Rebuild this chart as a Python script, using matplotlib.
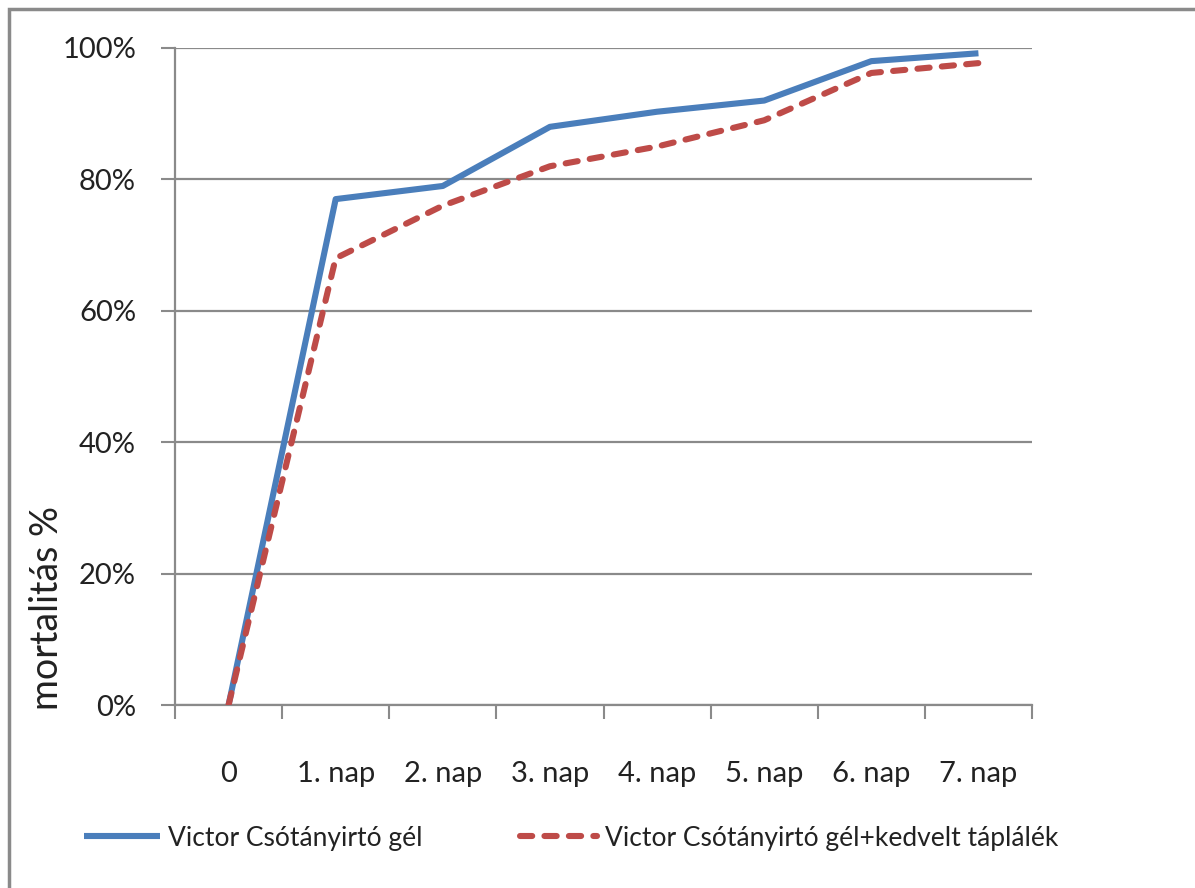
import matplotlib
matplotlib.use("Agg")
import matplotlib.pyplot as plt
from matplotlib.patches import Rectangle
from matplotlib.ticker import PercentFormatter, FixedLocator

categories = ["0", "1. nap", "2. nap", "3. nap", "4. nap", "5. nap", "6. nap", "7. nap"]
gel = [0.0, 0.77, 0.79, 0.88, 0.903, 0.92, 0.98, 0.992]
gel_food = [0.0, 0.68, 0.76, 0.82, 0.85, 0.89, 0.962, 0.977]
series_names = ["Victor Csótányirtó gél", "Victor Csótányirtó gél+kedvelt táplálék"]
y_label = "mortalitás %"

plt.rcParams['font.family'] = ['Lato', 'DejaVu Sans']

W, H = 1195, 888
fig = plt.figure(figsize=(W / 100, H / 100), dpi=100)
fig.patch.set_facecolor("white")

# outer frame (only top/left visible in reference)
fig.patches.append(Rectangle((9 / W, -0.1), 1.2, 1 - 9 / H + 0.1, transform=fig.transFigure,
                             fill=False, edgecolor="#8a8a8a", linewidth=2.5))

ax = fig.add_axes([175 / W, 1 - 705 / H, (1032 - 175) / W, (705 - 48) / H])
x = list(range(len(categories)))
ax.plot(x, gel, color="#4A7EBB", linewidth=4.4, solid_capstyle="butt",
        solid_joinstyle="round", zorder=3, label=series_names[0])
ax.plot(x, gel_food, color="#BE4B48", linewidth=4.4, dashes=(2.0, 2.0),
        dash_capstyle="round", zorder=3, label=series_names[1])

ax.set_xlim(-0.5, len(categories) - 0.5)
ax.set_ylim(0, 1)
ax.yaxis.set_major_locator(FixedLocator([0, 0.2, 0.4, 0.6, 0.8, 1.0]))
ax.yaxis.set_major_formatter(PercentFormatter(1.0, decimals=0))
ax.set_xticks(x)
ax.set_xticklabels(categories)
ax.set_xticks([i - 0.5 for i in range(len(categories) + 1)], minor=True)
ax.tick_params(axis="x", which="major", length=0, pad=40, labelsize=21, labelcolor="#222222")
ax.tick_params(axis="x", which="minor", length=10, width=1.5, color="#8a8a8a", direction="out")
ax.tick_params(axis="y", length=10, width=1.5, color="#8a8a8a", pad=18, labelsize=21,
               labelcolor="#222222")
ax.grid(axis="y", color="#8a8a8a", linewidth=1.6)
ax.set_axisbelow(True)
for s in ["top", "right"]:
    ax.spines[s].set_visible(False)
for s in ["left", "bottom"]:
    ax.spines[s].set_color("#8a8a8a")
    ax.spines[s].set_linewidth(1.6)

fig.text(47 / W, 1 - 608 / H, y_label, rotation=90, ha="center", va="center",
         fontsize=27, color="#222222")

leg = fig.legend(loc="center left", bbox_to_anchor=(60 / W, 1 - 838 / H), ncol=2,
                 frameon=False, fontsize=19, handlelength=2.9, handletextpad=0.3,
                 columnspacing=3.7, labelcolor="#222222")

fig.savefig("out.png", dpi=100, facecolor="white")
